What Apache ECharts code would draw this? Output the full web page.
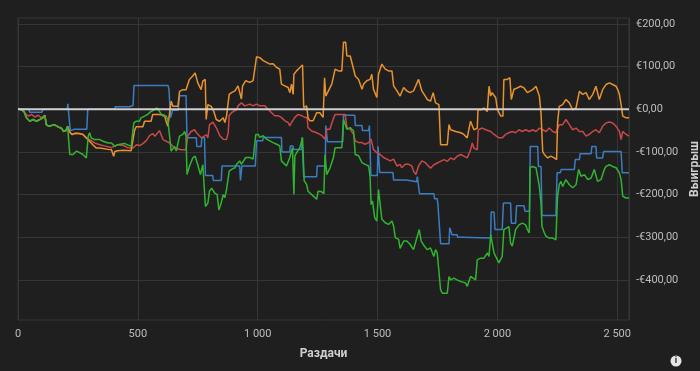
<!DOCTYPE html>
<html><head><meta charset="utf-8">
<script src="https://cdn.jsdelivr.net/npm/echarts@6/dist/echarts.min.js"></script>
<style>html,body{margin:0;padding:0;background:#1f1f1f;}#chart{width:700px;height:371px;}</style>
</head><body><div id="chart"></div>
<script>
// Tick values
const xMax = 2549;
const yTicks = [200, 100, 0, -100, -200, -300, -400];

// Series: [hands, euro]
const blueData = [[0,0],[45,0],[49,-7],[100,-7],[104,0],[205,0],[208,13],[213,13],[218,-50],[235,-47],[287,-47],[291,0],[404,0],[406,6],[465,6],[470,9],[480,9],[484,56],[626,56],[630,46],[636,-20],[645,-2],[668,-2],[674,32],[701,32],[705,-67],[744,-67],[746,-87],[764,-87],[767,-67],[778,-67],[782,-155],[812,-155],[815,-167],[848,-167],[851,-133],[925,-133],[928,-167],[932,-167],[934,-133],[990,-133],[995,-74],[1021,-74],[1023,-66],[1099,-66],[1101,-100],[1134,-100],[1136,-86],[1147,-86],[1149,-94],[1183,-94],[1185,-66],[1188,-66],[1192,-158],[1246,-158],[1248,-133],[1282,-133],[1284,-38],[1287,-38],[1291,-76],[1355,-76],[1358,-14],[1405,-14],[1407,-38],[1435,-38],[1437,-50],[1463,-50],[1466,-38],[1469,-38],[1472,-155],[1499,-155],[1502,-87],[1506,-87],[1509,-148],[1564,-148],[1567,-166],[1620,-166],[1622,-170],[1663,-170],[1666,-158],[1671,-158],[1675,-198],[1735,-198],[1738,-210],[1749,-210],[1752,-224],[1760,-224],[1763,-315],[1798,-315],[1801,-278],[1807,-278],[1811,-294],[1832,-294],[1834,-300],[1853,-300],[1856,-302],[1972,-302],[1974,-241],[1986,-241],[1990,-282],[2020,-282],[2025,-220],[2055,-220],[2058,-267],[2076,-267],[2080,-226],[2111,-226],[2115,-239],[2134,-239],[2137,-87],[2168,-87],[2171,-134],[2182,-134],[2186,-249],[2244,-249],[2249,-149],[2262,-149],[2266,-141],[2321,-141],[2325,-118],[2342,-118],[2345,-104],[2391,-104],[2394,-87],[2411,-87],[2414,-114],[2439,-114],[2443,-99],[2516,-99],[2521,-149],[2549,-149]];

const redData = [[0,0],[10,0],[25,-5],[33,-12],[45,-16],[56,-12],[70,-18],[85,-14],[98,-20],[104,-18],[112,-14],[118,-36],[130,-40],[150,-36],[170,-42],[181,-44],[190,-52],[200,-50],[207,-40],[214,-52],[225,-59],[240,-56],[255,-57],[271,-59],[285,-67],[299,-71],[320,-79],[341,-83],[369,-87],[390,-90],[416,-83],[440,-85],[458,-90],[480,-91],[494,-83],[508,-85],[522,-80],[536,-73],[550,-61],[562,-57],[571,-63],[590,-50],[605,-71],[611,-67],[633,-79],[639,-83],[653,-91],[680,-95],[701,-95],[708,-63],[722,-52],[736,-48],[745,-55],[764,-67],[786,-60],[792,-67],[799,-36],[813,-30],[828,-44],[842,-62],[856,-70],[870,-71],[877,-55],[881,-15],[891,-8],[897,-8],[912,-1],[918,8],[932,15],[946,8],[967,12],[981,8],[995,12],[1009,8],[1030,8],[1043,0],[1058,-8],[1071,-15],[1085,-15],[1099,-19],[1113,-27],[1127,-31],[1134,-39],[1141,-31],[1155,-19],[1169,-12],[1183,-15],[1197,-19],[1206,-19],[1210,-43],[1225,-51],[1246,-55],[1259,-59],[1268,-62],[1281,-70],[1288,-47],[1301,-47],[1315,-23],[1323,-12],[1343,-12],[1365,-12],[1372,-43],[1386,-47],[1400,-59],[1407,-74],[1421,-78],[1435,-78],[1448,-82],[1463,-78],[1473,-70],[1483,-94],[1497,-102],[1511,-106],[1525,-113],[1539,-117],[1553,-121],[1560,-125],[1567,-117],[1581,-133],[1594,-129],[1601,-137],[1615,-129],[1630,-129],[1643,-133],[1650,-145],[1660,-153],[1671,-133],[1685,-121],[1699,-125],[1707,-130],[1721,-138],[1735,-130],[1749,-126],[1763,-122],[1777,-118],[1791,-122],[1805,-114],[1818,-118],[1832,-110],[1847,-106],[1860,-110],[1874,-114],[1888,-95],[1895,-79],[1902,-91],[1916,-95],[1920,-48],[1937,-44],[1951,-48],[1972,-52],[1986,-59],[2006,-67],[2020,-67],[2034,-59],[2048,-55],[2062,-52],[2076,-55],[2090,-48],[2104,-52],[2118,-48],[2133,-52],[2147,-48],[2161,-52],[2175,-44],[2189,-48],[2203,-52],[2216,-44],[2231,-52],[2244,-55],[2258,-36],[2272,-36],[2286,-24],[2300,-36],[2314,-48],[2328,-44],[2342,-52],[2356,-52],[2370,-63],[2383,-59],[2398,-52],[2411,-48],[2425,-55],[2439,-40],[2453,-32],[2467,-30],[2481,-32],[2495,-40],[2509,-52],[2516,-71],[2523,-52],[2537,-59],[2549,-63]];

const orangeData = [[0,0],[10,0],[25,-5],[35,-20],[49,-28],[63,-24],[77,-28],[91,-24],[104,-20],[112,-14],[118,-36],[130,-40],[150,-36],[170,-42],[181,-44],[190,-52],[200,-50],[207,-40],[214,-52],[225,-59],[240,-56],[255,-57],[271,-59],[285,-67],[299,-75],[312,-83],[327,-91],[341,-91],[376,-94],[390,-95],[399,-110],[404,-99],[416,-97],[440,-96],[472,-97],[479,-97],[486,-50],[493,-41],[521,-41],[528,-28],[555,-28],[562,-12],[576,-12],[590,-12],[611,-14],[618,-28],[625,-40],[632,-40],[639,19],[646,7],[667,7],[674,42],[688,46],[701,46],[715,70],[729,78],[739,85],[750,62],[764,46],[771,66],[781,70],[785,-24],[792,11],[806,7],[817,-5],[827,-24],[841,-28],[856,-20],[863,-31],[870,-16],[881,35],[891,39],[905,43],[918,55],[925,55],[932,24],[937,55],[950,67],[967,63],[981,67],[988,63],[995,123],[1009,121],[1023,114],[1037,110],[1051,106],[1064,107],[1079,98],[1092,94],[1099,59],[1113,55],[1127,51],[1134,39],[1141,59],[1148,35],[1151,82],[1162,90],[1176,98],[1187,104],[1192,4],[1204,8],[1210,-20],[1218,-27],[1231,-27],[1246,-8],[1259,-8],[1273,-19],[1276,-16],[1279,74],[1284,31],[1295,43],[1309,59],[1323,94],[1337,90],[1351,90],[1358,157],[1367,157],[1372,125],[1386,125],[1393,121],[1407,78],[1421,70],[1435,47],[1442,59],[1455,67],[1469,70],[1476,82],[1483,47],[1497,28],[1504,82],[1518,106],[1532,94],[1546,90],[1560,90],[1567,55],[1581,43],[1594,31],[1609,51],[1622,43],[1636,39],[1650,43],[1657,39],[1671,70],[1685,43],[1699,31],[1707,23],[1721,19],[1732,39],[1742,15],[1756,11],[1763,-83],[1770,-87],[1791,-83],[1798,-36],[1805,-48],[1826,-52],[1847,-55],[1860,-59],[1874,-67],[1888,-28],[1902,-48],[1916,-44],[1919,-1],[1934,-1],[1944,3],[1958,-5],[1965,54],[1972,31],[1978,39],[1993,27],[2000,-1],[2014,-16],[2023,-16],[2027,70],[2041,70],[2052,74],[2058,23],[2069,47],[2083,50],[2097,54],[2111,50],[2125,39],[2133,35],[2147,46],[2161,54],[2175,31],[2182,-9],[2189,-99],[2196,-106],[2210,-114],[2223,-110],[2237,-114],[2247,-118],[2251,-32],[2258,7],[2272,11],[2286,23],[2300,15],[2314,-1],[2328,3],[2342,42],[2356,35],[2370,39],[2383,23],[2398,35],[2411,54],[2425,23],[2439,46],[2453,58],[2467,62],[2481,58],[2495,54],[2502,46],[2509,35],[2516,11],[2523,-16],[2537,-20],[2549,-20]];

const greenData = [[0,0],[10,0],[25,-5],[35,-20],[49,-28],[63,-24],[77,-28],[91,-24],[104,-20],[112,-14],[118,-36],[130,-40],[150,-36],[170,-42],[181,-44],[190,-52],[200,-50],[207,-40],[212,-42],[216,-106],[230,-106],[244,-98],[258,-102],[271,-106],[285,-114],[289,-114],[293,-63],[299,-55],[305,-67],[320,-71],[341,-71],[355,-75],[376,-79],[390,-79],[404,-87],[416,-83],[444,-80],[472,-87],[483,-32],[493,-28],[500,-24],[507,-28],[513,-20],[528,-16],[541,-12],[555,-5],[569,-1],[580,3],[586,7],[590,-5],[604,-16],[618,-16],[625,-24],[632,-20],[639,-98],[646,-98],[653,-87],[660,-98],[667,-95],[674,-63],[688,-59],[695,-52],[701,-63],[705,-153],[715,-134],[729,-114],[739,-110],[750,-130],[761,-153],[771,-130],[778,-134],[782,-228],[792,-220],[799,-192],[808,-185],[820,-196],[831,-200],[838,-236],[847,-221],[856,-200],[863,-207],[870,-188],[881,-145],[891,-141],[905,-137],[912,-129],[918,-125],[925,-121],[932,-129],[939,-133],[950,-113],[967,-113],[981,-117],[988,-113],[992,-59],[1002,-59],[1009,-66],[1023,-62],[1037,-70],[1051,-74],[1064,-78],[1079,-82],[1092,-86],[1099,-121],[1106,-125],[1120,-133],[1134,-113],[1141,-117],[1145,-90],[1151,-200],[1155,-109],[1162,-102],[1176,-90],[1187,-66],[1194,-168],[1204,-176],[1210,-192],[1218,-196],[1231,-203],[1246,-211],[1252,-192],[1266,-193],[1276,-198],[1279,-200],[1281,-106],[1288,-153],[1295,-145],[1302,-137],[1309,-125],[1316,-113],[1323,-90],[1351,-90],[1358,-24],[1365,-27],[1372,-47],[1386,-43],[1400,-51],[1407,-106],[1421,-109],[1435,-125],[1448,-129],[1463,-133],[1469,-160],[1473,-223],[1479,-215],[1488,-254],[1497,-262],[1504,-188],[1511,-192],[1518,-258],[1532,-266],[1546,-270],[1553,-266],[1560,-262],[1567,-274],[1574,-301],[1588,-305],[1594,-326],[1609,-309],[1622,-309],[1636,-317],[1650,-329],[1664,-301],[1674,-282],[1682,-309],[1692,-318],[1707,-329],[1721,-325],[1735,-345],[1742,-329],[1749,-337],[1756,-333],[1763,-423],[1770,-431],[1791,-431],[1798,-392],[1805,-400],[1818,-396],[1832,-400],[1847,-404],[1867,-407],[1874,-415],[1881,-404],[1888,-392],[1895,-396],[1909,-400],[1916,-353],[1930,-349],[1944,-349],[1958,-337],[1965,-345],[1972,-294],[1978,-298],[1986,-337],[2000,-353],[2006,-360],[2014,-364],[2020,-345],[2027,-282],[2034,-278],[2048,-275],[2055,-314],[2062,-321],[2069,-318],[2076,-282],[2090,-271],[2104,-267],[2118,-271],[2125,-282],[2133,-290],[2136,-137],[2147,-134],[2161,-137],[2168,-141],[2175,-181],[2182,-220],[2186,-275],[2196,-290],[2203,-298],[2210,-294],[2216,-302],[2231,-302],[2244,-306],[2251,-204],[2258,-177],[2265,-169],[2272,-181],[2286,-165],[2300,-177],[2314,-184],[2328,-177],[2339,-141],[2349,-157],[2363,-153],[2377,-165],[2391,-161],[2404,-141],[2411,-137],[2418,-169],[2432,-165],[2446,-141],[2453,-134],[2467,-130],[2481,-134],[2495,-137],[2509,-149],[2516,-165],[2523,-204],[2537,-208],[2549,-208]];

const zeroData = [[0,0],[2549,0]];

const FONT = 'Roboto, "Open Sans", sans-serif';
function fmtEuro(v){ return (v < 0 ? '-€' : '€') + Math.abs(v) + ',00'; }
function fmtHands(v){ return String(v).replace(/\B(?=(\d{3})+(?!\d))/g, ' '); }
function lineSeries(name, data, color, width){
  return {name:name, type:'line', data:data, showSymbol:false, symbol:'none',
    lineStyle:{color:color, width:width}, itemStyle:{color:color}, silent:true};
}
const chart = echarts.init(document.getElementById('chart'), null, {renderer:'canvas'});
chart.setOption({
  backgroundColor:'#1f1f1f',
  animation:false,
  textStyle:{fontFamily:FONT},
  grid:{left:18, right:71, top:18, bottom:51, show:true, borderColor:'#363636', borderWidth:1,
    backgroundColor:'transparent', containLabel:false, outerBoundsMode:'none'},
  xAxis:{type:'value', min:0, max:xMax, interval:500,
    name:'Раздачи', nameLocation:'middle', nameGap:28,
    nameTextStyle:{color:'#cfcfcf', fontWeight:'bold', fontSize:12, fontFamily:FONT},
    axisLine:{show:false}, axisTick:{show:false},
    axisLabel:{color:'#bdbdbd', fontSize:11, margin:9, showMaxLabel:false, formatter:fmtHands, fontFamily:FONT},
    splitLine:{show:true, lineStyle:{color:'#363636', width:1}}},
  yAxis:{type:'value', position:'right', min:-494, max:214,
    name:'Выигрыш', nameLocation:'middle', nameGap:53, nameRotate:90,
    nameTextStyle:{color:'#cfcfcf', fontWeight:'bold', fontSize:12, fontFamily:FONT},
    axisLine:{show:false}, axisTick:{show:false, customValues:yTicks},
    axisLabel:{color:'#bdbdbd', fontSize:11, margin:7, customValues:yTicks, formatter:fmtEuro, fontFamily:FONT},
    splitLine:{show:true, lineStyle:{color:'#363636', width:1}}},
  series:[
    lineSeries('Выигрыш на вскрытии', blueData, '#3b7dc2', 1.5),
    lineSeries('Выигрыш без вскрытия', redData, '#c94848', 1.5),
    lineSeries('EV олл-инов', orangeData, '#e8922e', 1.5),
    lineSeries('Выигрыш', greenData, '#30b530', 1.5),
    lineSeries('Ноль', zeroData, '#cfcfcf', 2)
  ],
  graphic:[
    {type:'circle', shape:{cx:676, cy:361, r:5.5}, style:{fill:'#e6e6e6'}},
    {type:'text', x:676, y:361, style:{text:'i', fill:'#1f1f1f', font:'bold 9px ' + FONT, align:'center', verticalAlign:'middle'}}
  ]
});
</script>
</body></html>
